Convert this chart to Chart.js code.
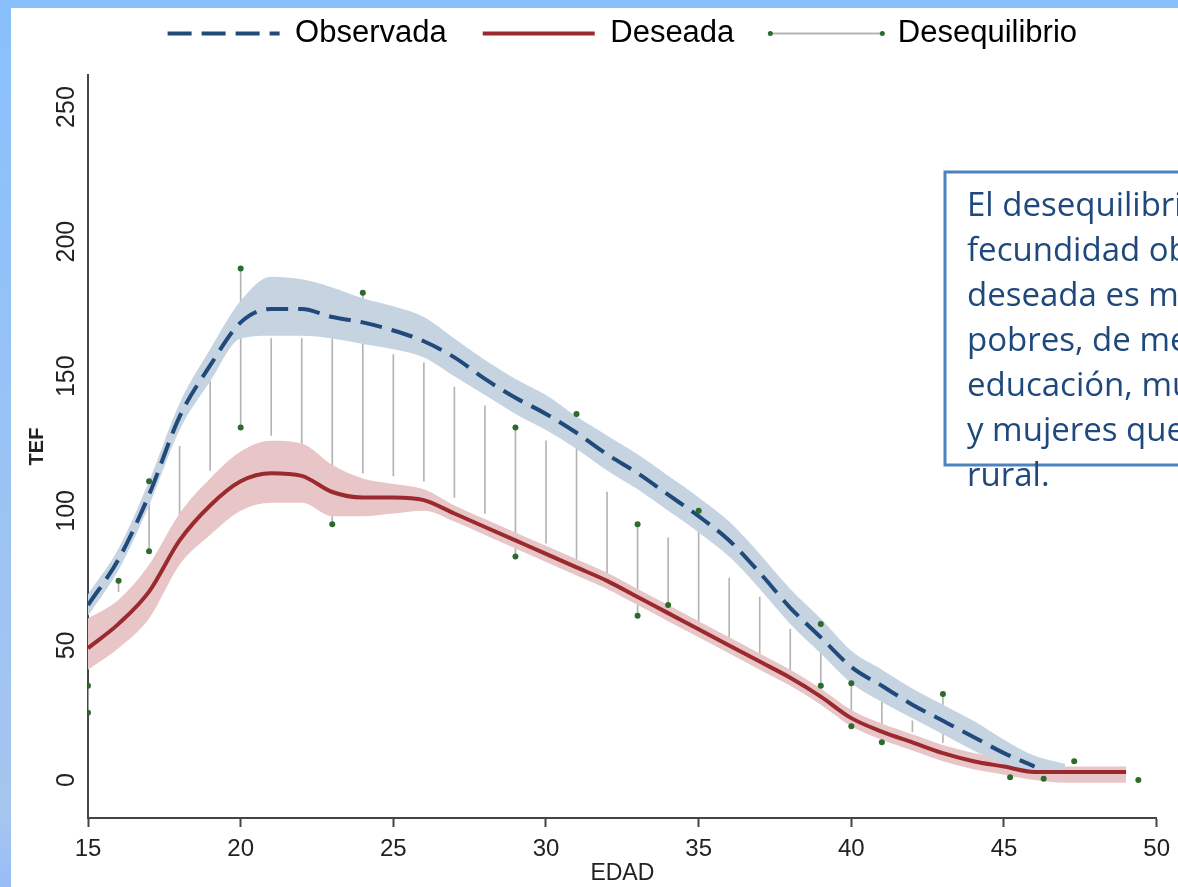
<!DOCTYPE html>
<html>
<head>
<meta charset="utf-8">
<script src="https://cdn.jsdelivr.net/npm/chart.js@4.4.1/dist/chart.umd.min.js"></script>
<style>
  html, body { margin: 0; padding: 0; background: #fff; }
  #wrap { width: 1178px; height: 887px; }
</style>
</head>
<body>
<div id="wrap"><canvas id="tefChart" width="1178" height="887"></canvas></div>
<script>
// edades y tasas
const lineAges = [15, 16, 17, 18, 19, 20, 21, 22, 23, 24, 25, 26, 27, 28, 29, 30, 31, 32, 33, 34, 35, 36, 37, 38, 39, 40, 41, 42, 43, 44, 45, 46, 47, 48, 49];

const observada = [65, 82, 106, 135, 154, 170, 175, 175, 172, 170, 167, 163, 157, 149, 142, 136, 129, 121, 114, 106, 98, 89, 77, 64, 53, 42, 35, 28, 22, 16, 10, 5];
const observadaHi = [69, 86, 111, 140, 160, 178, 187, 186, 183, 179, 176, 172, 164, 156, 149, 143, 135, 128, 121, 113, 105, 96, 84, 71, 60, 48, 41, 34, 28, 22, 15, 9, 6];
const observadaLo = [61, 78, 102, 130, 148, 164, 165, 165, 164, 162, 160, 157, 150, 143, 136, 130, 123, 115, 108, 100, 92, 83, 71, 58, 47, 36, 29, 23, 17, 11, 6, 3, 4];

const deseada = [49, 58, 70, 89, 102, 111, 114, 113, 107, 105, 105, 104, 99, 94, 89, 84, 79, 74, 68, 62, 56, 50, 44, 38, 31, 23, 18, 14, 10, 7, 5, 3, 3, 3, 3];
const deseadaHi = [60, 67, 80, 99, 112, 122, 126, 125, 117, 112, 110, 108, 102, 97, 92, 87, 82, 77, 71, 65, 59, 53, 47, 41, 34, 26, 21, 17, 13, 10, 8, 6, 5, 5, 5];
const deseadaLo = [41, 49, 60, 80, 91, 100, 103, 103, 98, 98, 99, 100, 96, 91, 86, 81, 76, 71, 65, 59, 53, 47, 41, 35, 28, 20, 15, 11, 7, 4, 2, 0, -1, -1, -1];

// segmentos de desequilibrio por edad
const deseqAges = [15, 16, 17, 18, 19, 20, 21, 22, 23, 24, 25, 26, 27, 28, 29, 30, 31, 32, 33, 34, 35, 36, 37, 38, 39, 40, 41, 42, 43];
const deseqTop = [35, 74, 111, 124, 148, 190, 164, 164, 164, 181, 158, 155, 146, 139, 131, 126, 136, 107, 95, 90, 100, 75, 68, 56, 58, 36, 29, 22, 32];
const deseqBottom = [25, 70, 85, 98, 115, 131, 128, 125, 95, 114, 113, 111, 105, 99, 83, 88, 82, 77, 61, 65, 59, 53, 47, 41, 35, 20, 14, 18, 14];

// puntos verdes
const dotAges = [15, 15, 16, 17, 17, 20, 20, 23, 24, 29, 29, 31, 33, 33, 34, 35, 39, 39, 40, 40, 41, 43, 45.2, 46.3, 47.3, 49.4];
const dotValues = [35, 25, 74, 111, 85, 190, 131, 95, 181, 131, 83, 136, 95, 61, 65, 100, 58, 35, 36, 20, 14, 32, 1, 0.5, 7, 0];

const xTicks = [15, 20, 25, 30, 35, 40, 45, 50];
const yTicks = [0, 50, 100, 150, 200, 250];

const noteLines = [
  "El desequilibrio entre la",
  "fecundidad observada y la",
  "deseada es mayor en mujeres",
  "pobres, de menor nivel de",
  "educación, mujeres indígenas",
  "y mujeres que viven en el área",
  "rural."
];

const BLUE = "#1f4a7a";
const RED = "#9b2a2f";
const GREEN = "#2d6a2d";
const GRAY = "#b4b4b4";

function pts(values) {
  return values.map((v, i) => ({ x: lineAges[i], y: v }));
}

const slideBg = {
  id: "slideBg",
  beforeDraw(chart) {
    const c = chart.ctx;
    c.save();
    c.fillStyle = "#ffffff";
    c.fillRect(0, 0, chart.width, chart.height);
    const g = c.createLinearGradient(0, 0, 0, chart.height);
    g.addColorStop(0, "#88c0fc");
    g.addColorStop(0.92, "#a6c5f0");
    g.addColorStop(1, "#98bcf6");
    c.fillStyle = g;
    c.fillRect(0, 0, 11, chart.height);
    c.fillStyle = "#88c0fc";
    c.fillRect(0, 0, chart.width, 8);
    c.restore();
  }
};

const legendDots = {
  id: "legendDots",
  afterDraw(chart) {
    const lg = chart.legend;
    const box = lg.legendHitBoxes[2];
    if (!box) return;
    const w = lg.options.labels.pointStyleWidth;
    const y = box.top + lg.options.labels.font.size / 2;
    const c = chart.ctx;
    c.save();
    c.fillStyle = GREEN;
    [box.left, box.left + w].forEach(x => {
      c.beginPath();
      c.arc(x, y, 2.5, 0, Math.PI * 2);
      c.fill();
    });
    c.restore();
  }
};

const noteBox = {
  id: "noteBox",
  afterDraw(chart) {
    const c = chart.ctx;
    c.save();
    c.fillStyle = "#ffffff";
    c.fillRect(945, 172, 260, 293);
    c.strokeStyle = "#4f81bd";
    c.lineWidth = 3;
    c.strokeRect(945, 172, 260, 293);
    c.fillStyle = "#1f497d";
    c.font = '33px "Open Sans"';
    c.textBaseline = "middle";
    noteLines.forEach((t, i) => c.fillText(t, 967, 207 + i * 45));
    c.restore();
  }
};

Chart.defaults.font.family = '"Liberation Sans", Arial, sans-serif';

const ctx = document.getElementById("tefChart").getContext("2d");

new Chart(ctx, {
  type: "line",
  data: {
    datasets: [
      {
        label: "puntos",
        data: dotAges.map((a, i) => ({ x: a, y: dotValues[i] })),
        showLine: false,
        pointRadius: 3,
        pointBackgroundColor: GREEN,
        pointBorderWidth: 0,
        order: 0
      },
      {
        label: "Observada",
        data: pts(observada),
        borderColor: BLUE,
        borderWidth: 4,
        borderDash: [22, 10],
        pointRadius: 0,
        cubicInterpolationMode: "monotone",
        fill: false,
        order: 1
      },
      {
        label: "Deseada",
        data: pts(deseada),
        borderColor: RED,
        borderWidth: 4,
        pointRadius: 0,
        cubicInterpolationMode: "monotone",
        fill: false,
        order: 1
      },
      {
        label: "obsHi",
        data: pts(observadaHi),
        borderWidth: 0,
        borderColor: "transparent",
        backgroundColor: "#c6d4e2",
        pointRadius: 0,
        cubicInterpolationMode: "monotone",
        fill: "+1",
        order: 2
      },
      {
        label: "obsLo",
        data: pts(observadaLo),
        borderWidth: 0,
        borderColor: "transparent",
        pointRadius: 0,
        cubicInterpolationMode: "monotone",
        fill: false,
        order: 2
      },
      {
        label: "desHi",
        data: pts(deseadaHi),
        borderWidth: 0,
        borderColor: "transparent",
        backgroundColor: "#e8c6c8",
        pointRadius: 0,
        cubicInterpolationMode: "monotone",
        fill: "+1",
        order: 2
      },
      {
        label: "desLo",
        data: pts(deseadaLo),
        borderWidth: 0,
        borderColor: "transparent",
        pointRadius: 0,
        cubicInterpolationMode: "monotone",
        fill: false,
        order: 2
      },
      {
        type: "bar",
        label: "Desequilibrio",
        data: deseqAges.map((a, i) => ({ x: a, y: [deseqBottom[i], deseqTop[i]] })),
        backgroundColor: GRAY,
        borderWidth: 0,
        barThickness: 1,
        order: 3
      }
    ]
  },
  options: {
    responsive: false,
    animation: false,
    events: [],
    layout: { padding: { top: -18, left: 0, right: 18, bottom: 0 } },
    plugins: {
      tooltip: { enabled: false },
      title: {
        display: true,
        text: "",
        weight: 500,
        font: { size: 1, lineHeight: 1 },
        padding: { top: 0, bottom: 15 }
      },
      legend: {
        position: "top",
        fullSize: false,
        labels: {
          usePointStyle: true,
          pointStyleWidth: 112,
          padding: 36,
          color: "#222",
          font: { size: 31 },
          generateLabels: () => [
            { text: "Observada", pointStyle: "line", rotation: 0, strokeStyle: BLUE, fillStyle: BLUE, lineWidth: 4, lineDash: [24, 10], datasetIndex: 1 },
            { text: "Deseada", pointStyle: "line", rotation: 0, strokeStyle: RED, fillStyle: RED, lineWidth: 4, datasetIndex: 2 },
            { text: "Desequilibrio", pointStyle: "line", rotation: 0, strokeStyle: GRAY, fillStyle: GRAY, lineWidth: 2, datasetIndex: 7 }
          ]
        }
      }
    },
    scales: {
      x: {
        type: "linear",
        min: 15,
        max: 50,
        offset: false,
        afterFit: s => { s.height = 69; },
        afterBuildTicks: s => { s.ticks = xTicks.map(v => ({ value: v })); },
        grid: { display: true, drawOnChartArea: false, drawTicks: true, tickLength: 9, tickColor: "#444", tickWidth: 2, offset: false },
        border: { display: true, color: "#444", width: 2 },
        ticks: { color: "#222", font: { size: 24 }, padding: 8, maxRotation: 0, minRotation: 0 },
        title: { display: true, text: "EDAD", color: "#222", font: { size: 23 }, padding: { top: 1, bottom: 0 } }
      },
      y: {
        min: -14.1,
        max: 261.9,
        afterFit: s => { s.width = 88; },
        afterBuildTicks: s => { s.ticks = yTicks.map(v => ({ value: v })); },
        grid: { display: false, drawTicks: false },
        border: { display: true, color: "#444", width: 2 },
        ticks: { color: "#222", font: { size: 25 }, padding: 0, crossAlign: "center", minRotation: 90, maxRotation: 90 },
        title: { display: true, text: "TEF", color: "#222", font: { size: 20, weight: "bold" }, padding: { top: 25, bottom: 0 } }
      }
    }
  },
  plugins: [slideBg, legendDots, noteBox]
});
</script>
</body>
</html>
